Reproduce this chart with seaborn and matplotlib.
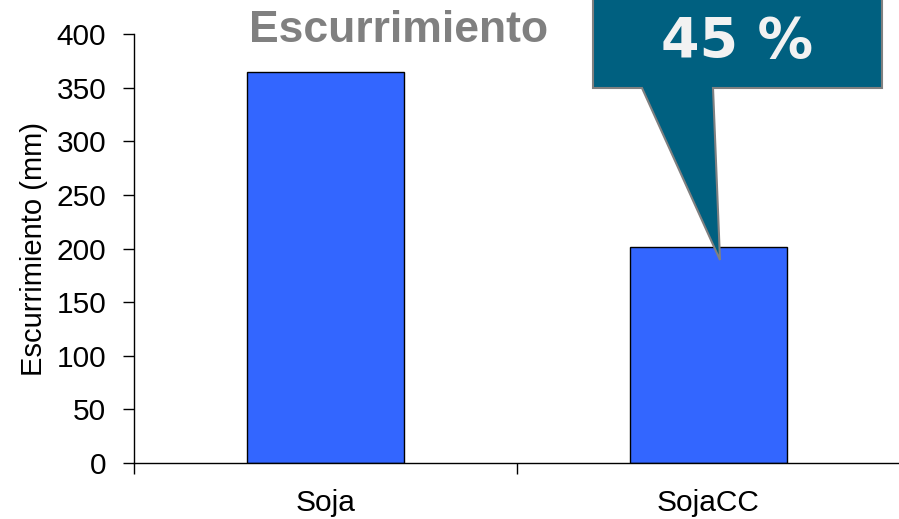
import matplotlib
matplotlib.use("Agg")
import matplotlib.pyplot as plt
from matplotlib.patches import Polygon
from matplotlib.ticker import FixedLocator, NullFormatter
import seaborn as sns
import pandas as pd

categories = ["Soja", "SojaCC"]
values = [365, 201]
title = "Escurrimiento"
ylabel = "Escurrimiento (mm)"
callout_text = "45 %"

sns.set_style("white")
plt.rcParams['font.family'] = ['Liberation Sans', 'DejaVu Sans']
plt.rcParams['text.color'] = 'black'
plt.rcParams['axes.labelcolor'] = 'black'
plt.rcParams['xtick.color'] = 'black'
plt.rcParams['ytick.color'] = 'black'

W, H = 899, 519
fig = plt.figure(figsize=(W / 100, H / 100), dpi=100)
ax = fig.add_axes([134 / W, 1 - 463 / H, (900 - 134) / W, (463 - 34) / H])

df = pd.DataFrame({"cat": categories, "val": values})
sns.barplot(data=df, x="cat", y="val", ax=ax, color="#3366FF", saturation=1,
            width=0.41, edgecolor="black", linewidth=1.0)

ax.set_xlim(-0.5, 1.5)
ax.set_ylim(0, 400)
ax.set_yticks(range(0, 401, 50))
ax.set_xlabel("")
ax.set_ylabel(ylabel, fontsize=21, labelpad=6, color="black")
for s in ["top", "right"]:
    ax.spines[s].set_visible(False)
for s in ["left", "bottom"]:
    ax.spines[s].set_color("black")
    ax.spines[s].set_linewidth(1.0)
ax.tick_params(axis="y", which="major", left=True, length=8, width=1, direction="out",
               labelsize=21.5, pad=12, color="black", labelcolor="black")
ax.tick_params(axis="x", which="major", bottom=False, labelsize=21.5, pad=15,
               labelcolor="black")
ax.xaxis.set_minor_locator(FixedLocator([-0.5, 0.5, 1.5]))
ax.xaxis.set_minor_formatter(NullFormatter())
ax.tick_params(axis="x", which="minor", bottom=True, length=8, width=1, direction="out",
               color="black")
for t in ax.xaxis.get_minorticklines():
    t.set_clip_on(False)

fig.text(399 / W, 1 - 31 / H, title, ha="center", va="center", fontsize=32,
         fontweight="bold", color="#808080")

pts = [(593, -5), (882, -5), (882, 88), (713, 88), (720, 260), (642, 88), (593, 88)]
poly = Polygon([(x / W, 1 - y / H) for x, y in pts], closed=True,
               transform=fig.transFigure, facecolor="#006080", edgecolor="#808080",
               linewidth=1.5, clip_on=False, zorder=10)
fig.add_artist(poly)
fig.text(737.5 / W, 1 - 42 / H, callout_text, ha="center", va="center", fontsize=40,
         fontweight="bold", color="#F2F2F2", family="DejaVu Sans", zorder=11)

fig.savefig("out.png", dpi=100)
